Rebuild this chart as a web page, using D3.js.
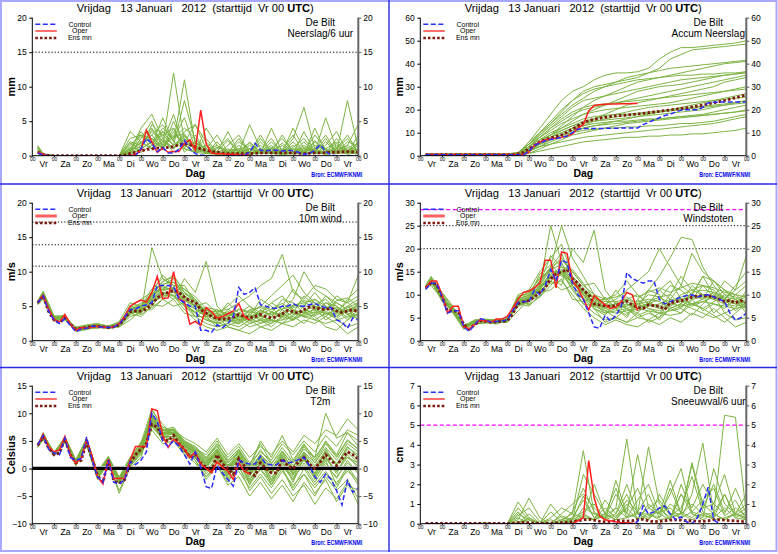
<!DOCTYPE html>
<html><head><meta charset="utf-8">
<script src="https://cdn.jsdelivr.net/npm/d3@7"></script>
<style>body{margin:0;background:#fff}svg{display:block}</style>
</head><body>
<svg id="c" width="778" height="554"></svg>
<script>
// ---------------- DATA ----------------
const DAYS = ["Vr","Za","Zo","Ma","Di","Wo","Do","Vr","Za","Zo","Ma","Di","Wo","Do","Vr"];
const HOURS6 = d3.range(6, 361, 6);                 // 6-hourly sampling grid (control / oper / mean)
const MEMBER_HOURS = [6].concat(d3.range(12, 361, 12)); // member sampling grid
const TITLE = "Vrijdag   13 Januari   2012  (starttijd  Vr 00 ";
const SOURCE = "Bron: ECMWF/KNMI";
const STATION = "De Bilt";
const LEGEND = ["Control", "Oper", "Ens mn"];

// Panel 1: Neerslag/6 uur (mm)
const P1_OPER = [0.5,0.2,0,0,0,0,0,0,0,0,0,0,0,0,0,0,0,0,0.2,0.8,3.7,2.0,0.5,1.1,0.5,0.6,0.6,1.8,2.3,0.8,6.6,1.7,0.4,0.3,0.3,0.2,0.2,0.1,0.1,0.1];
const P1_CONTROL = [0.4,0.1,0,0,0,0,0,0,0,0,0,0,0,0,0,0,0,0,0,1.0,2.5,1.8,0.6,1.2,0.4,0.4,0.9,2.2,1.0,0.3,0.1,0,0,0,0,0,0,0,0.1,0.5,1.8,0.8,0.7,0.8,0.8,0.7,0.8,0.7,0.5,0.2,0.3,0.8,1.6,0.6,0.1,0,0,0,0,0];
const P1_MEAN = [0.5,0.2,0.05,0,0,0,0,0,0,0,0,0,0,0,0,0,0.1,0.3,0.5,0.7,0.9,1.0,1.1,1.1,1.2,1.3,1.6,1.7,1.6,1.3,1.0,0.8,0.6,0.5,0.4,0.3,0.3,0.3,0.3,0.3,0.35,0.4,0.4,0.4,0.4,0.4,0.4,0.4,0.35,0.3,0.35,0.4,0.4,0.45,0.5,0.5,0.55,0.6,0.55,0.5];
const P1_MEMBERS = [
 [1.5,0.3,0,0,0,0,0,0,0,0.3,2.5,4.0,1.5,12.0,2.0,1.0,0.5,0.3,0,0.5,1.5,0.3,1.0,0.2,0.5,2.0,0.3,0.5,1.0,0.2,0.5],
 [0.8,0.1,0,0,0,0,0,0,0,1.0,3.5,1.5,5.5,2.0,11.0,1.5,0.5,0.2,0.3,1.0,0.3,0.5,2.0,0.5,1.5,0.3,0.8,0.2,0.5,8.0,1.0],
 [0.5,0,0,0,0,0,0,0,0,0.5,4.0,6.0,2.5,1.0,3.5,4.5,2.0,0.5,0.2,0.5,4.5,1.0,0.5,3.0,0.5,0.2,2.0,1.0,0.3,0.5,0.2],
 [1.0,0.2,0,0,0,0,0,0,0,2.0,1.5,3.0,1.0,5.0,1.5,0.5,4.0,1.5,0.5,0.3,0.2,0.5,0.3,0.5,2.5,7.0,1.0,0.3,1.5,0.5,2.0],
 [0.3,0,0,0,0,0,0,0,0,0.2,1.0,2.0,3.5,1.5,8.0,2.0,1.0,3.0,0.5,0.2,0.5,2.5,0.5,0.2,0.3,1.0,0.5,5.5,1.0,3.0,0.5],
 [0.6,0.1,0,0,0,0,0,0,0,3.5,2.0,1.0,2.5,0.5,1.5,3.0,0.5,1.0,2.5,0.5,1.0,0.3,4.0,0.5,1.0,0.5,3.0,1.0,0.5,1.5,4.5],
 [1.2,0.2,0,0,0,0,0,0,0,0.3,2.5,5.0,1.0,4.0,0.5,2.0,0.3,0.2,1.5,3.0,0.5,0.3,0.5,1.5,0.3,3.5,0.5,0.3,2.5,0.5,1.5],
 [0.4,0,0,0,0,0,0,0,0,0.8,0.5,1.5,4.0,2.5,5.5,1.0,2.5,0.5,0.2,0.5,0.3,1.0,0.3,0.5,4.0,1.0,0.5,2.0,0.5,0.3,3.0],
 [0.9,0.1,0,0,0,0,0,0,0,1.5,3.0,2.5,1.5,3.0,2.0,4.5,1.0,0.3,0.5,2.0,1.0,0.5,1.5,0.3,0.5,0.2,4.0,0.5,1.0,2.5,0.5],
 [0.5,0,0,0,0,0,0,0,0,0.2,1.5,3.5,2.0,6.0,1.0,0.5,0.3,2.0,0.3,0.2,0.5,3.0,0.5,1.0,0.2,0.5,0.3,1.5,3.5,0.5,1.0],
 [1.3,0.2,0,0,0,0,0,0,0,1.2,0.8,4.5,3.0,1.5,3.0,0.5,1.5,0.5,3.5,0.5,0.2,0.5,1.0,2.5,0.5,1.5,0.5,0.2,0.5,1.0,0.3],
 [0.7,0.1,0,0,0,0,0,0,0,0.5,2.0,1.0,3.5,2.5,4.0,2.5,0.5,0.3,0.2,1.5,0.5,1.5,0.3,0.2,1.0,0.5,1.0,3.0,0.5,2.0,1.5],
 [0.6,0.1,0,0,0,0,0,0,0,0.8,1.8,2.5,0.8,3.5,1.5,2.0,0.3,0.5,1.0,0.3,2.0,0.5,1.2,0.4,2.0,0.5,1.5,0.8,0.3,1.2,0.6],
 [1.0,0.2,0,0,0,0,0,0,0,2.5,3.0,1.0,2.0,1.0,2.5,1.0,1.5,0.2,0.8,1.0,0.5,2.0,0.4,0.8,3.0,0.3,0.5,1.0,2.0,0.4,0.8],
 [0.4,0,0,0,0,0,0,0,0,0.4,2.0,3.0,4.5,2.0,1.0,0.5,0.8,1.5,0.3,0.6,0.4,0.8,2.5,0.3,0.5,1.2,0.6,2.5,0.4,0.6,1.8],
 [0.8,0.1,0,0,0,0,0,0,0,1.8,1.0,2.0,1.2,2.8,3.2,0.8,0.4,0.6,2.2,0.4,1.0,0.3,0.6,1.8,0.6,0.3,2.2,0.4,1.2,0.8,0.4],
 [1.1,0.2,0,0,0,0,0,0,0,0.6,3.0,1.8,3.0,4.0,1.2,1.8,1.0,0.3,0.4,2.5,0.3,0.6,0.8,0.3,1.2,2.5,0.4,0.6,1.8,0.3,1.0],
 [0.5,0.1,0,0,0,0,0,0,0,1.0,1.2,3.8,2.2,1.2,2.8,1.2,0.6,1.2,0.6,0.8,1.8,0.4,1.0,0.6,0.4,0.8,1.0,0.3,0.8,1.5,0.7]
];

// Panel 2: Accum Neerslag (mm)
const P2_OPER = [0.5,0.5,0.5,0.5,0.5,0.5,0.5,0.5,0.5,0.5,0.5,0.5,0.5,0.5,0.5,0.5,0.5,0.5,0.5,1.5,4.5,6.0,6.8,7.3,7.6,8.0,8.5,9.5,12.0,13.5,19.5,21.8,22.2,22.4,22.5,22.5,22.6,22.6,22.7,22.7];
const P2_CONTROL = [0.4,0.4,0.4,0.4,0.4,0.4,0.4,0.4,0.4,0.4,0.4,0.4,0.4,0.4,0.4,0.4,0.4,0.4,0.4,2.0,4.5,5.5,6.5,7.0,7.5,8.0,8.5,10.0,11.5,11.8,11.8,11.8,11.8,11.9,11.9,11.9,12.0,12.0,12.0,12.0,13.5,14.5,15.5,16.5,17.5,18.0,19.0,19.8,20.0,20.0,20.0,21.0,23.0,23.2,23.3,23.3,23.3,23.3,23.3,23.3];
const P2_MEAN = [0.5,0.5,0.5,0.5,0.5,0.5,0.5,0.5,0.5,0.5,0.5,0.5,0.5,0.5,0.5,0.5,0.5,0.8,1.5,3.0,4.5,6.0,7.0,7.8,8.3,9.0,10.2,11.5,13.0,14.3,15.3,15.8,16.3,16.7,17.0,17.3,17.5,17.7,17.9,18.1,18.4,18.7,19.0,19.3,19.6,19.9,20.2,20.5,20.8,21.2,21.6,22.0,22.5,23.0,23.5,24.0,24.6,25.2,25.8,26.4];
const P2_MEMBERS = [
 [0.5,0.5,0.5,0.5,0.5,0.5,0.5,0.5,0.5,1.0,6,12,18,24,28,30,33,35,36,36,36.5,38,42,45,47,47,47.5,48,48.5,49,50],
 [0.8,0.8,0.8,0.8,0.8,0.8,0.8,0.8,0.8,1.5,5,9,14,19,24,28,30,31,32,33,34,36,38,42,44,46,46.5,47,47.5,48,48.5],
 [0.3,0.3,0.3,0.3,0.3,0.3,0.3,0.3,0.3,0.6,3,6,9,13,17,21,24,26,28,30,32,33,34,35,36,37,38,39,40,40.5,41],
 [0.4,0.4,0.4,0.4,0.4,0.4,0.4,0.4,0.4,0.8,4,7,10,12,15,18,20,22,24,26,28,29,30,30.5,31,32,33,34,35,35.5,36],
 [0.6,0.6,0.6,0.6,0.6,0.6,0.6,0.6,0.6,1.0,3,5,8,10,12,14,16,18,20,22,23,24,25,26,27,28,29,30,32,33,34],
 [0.3,0.3,0.3,0.3,0.3,0.3,0.3,0.3,0.3,0.5,2,4,6,8,10,12,13,14,15,16,17,18,19,20,21,22,23,24,25,26,27],
 [0.5,0.5,0.5,0.5,0.5,0.5,0.5,0.5,0.5,0.7,3,5,7,9,11,13,15,16,17,17.5,18,18.5,19,19.5,20,20.5,21,21.5,22,22.5,23],
 [0.2,0.2,0.2,0.2,0.2,0.2,0.2,0.2,0.2,0.4,1,3,5,7,9,10,11,12,13,14,14.5,15,15.5,16,16.5,17,17.5,18,18.5,19,19.5],
 [0.4,0.4,0.4,0.4,0.4,0.4,0.4,0.4,0.4,0.6,2,4,5,6,7,8,8.5,9,9.5,10,10.5,11,11.5,12,12.5,13,13.5,14,15,16,17],
 [0.3,0.3,0.3,0.3,0.3,0.3,0.3,0.3,0.3,0.4,1,2,3,4,5,6,6.5,7,7.5,8,8,8.5,8.5,9,9,9.5,9.5,10,10.5,11,12],
 [0.7,0.7,0.7,0.7,0.7,0.7,0.7,0.7,0.7,1.0,5,9,13,17,21,24,25,26,27,28,29,30,31,32,33,33.5,34,34.5,35,35.5,36.5],
 [0.5,0.5,0.5,0.5,0.5,0.5,0.5,0.5,0.5,0.8,4,8,11,14,16,18,19,20,20.5,21,21.5,22,22.5,23,24,25,26,27,28,29,30],
 [0.4,0.4,0.4,0.4,0.4,0.4,0.4,0.4,0.4,0.6,2,5,8,11,13,15,16,17,18,19,20,21,21.5,22,22.5,23,23.5,24,24.5,25,25.5],
 [0.6,0.6,0.6,0.6,0.6,0.6,0.6,0.6,0.6,1.0,6,10,14,18,22,25,28,30,32,34,35,36,37,38,38.5,39,39.5,40,40.5,41,41.5],
 [0.5,0.5,0.5,0.5,0.5,0.5,0.5,0.5,0.5,0.8,4,7,9,11,13,14,15,15.5,16,16.5,17,17.5,18,18.5,19,19.5,20,21,22,23,24],
 [0.4,0.4,0.4,0.4,0.4,0.4,0.4,0.4,0.4,0.6,3,6,9,12,14,16,17,17.5,18,18,18.5,19,19.5,20,20.5,21,21.5,22,22.5,23,24],
 [0.6,0.6,0.6,0.6,0.6,0.6,0.6,0.6,0.6,1.2,5,8,12,15,18,20,21,22,23,24,25,26,27,28,29,30,31,32,33,34,35],
 [0.3,0.3,0.3,0.3,0.3,0.3,0.3,0.3,0.3,0.5,2,4,7,9,11,12,13,13.5,14,14.5,15,15.5,16,16.5,17,17.5,18,19,20,21,22],
 [0.5,0.5,0.5,0.5,0.5,0.5,0.5,0.5,0.5,0.9,4,8,12,16,19,21,22,22.5,23,23.5,24,24.5,25,25.5,26,26.5,27,27.5,28,28.5,29],
 [0.4,0.4,0.4,0.4,0.4,0.4,0.4,0.4,0.4,0.7,3,5,8,10,12,13,14,14.5,15,15,15.5,16,16,16.5,17,17,17.5,18,18.5,19,20],
 [0.6,0.6,0.6,0.6,0.6,0.6,0.6,0.6,0.6,1.0,5,10,15,20,24,27,29,30,31,32,33,33.5,34,34.5,35,35,35.5,35.5,36,36,36.5],
 [0.3,0.3,0.3,0.3,0.3,0.3,0.3,0.3,0.3,0.5,2,5,7,9,10,11,11.5,12,12,12.5,12.5,13,13,13.5,14,14,14.5,15,16,17,18]
];

// Panel 3: 10m wind (m/s)
const P3_OPER = [5.5,6.6,4.6,3.1,2.7,3.8,2.4,1.5,1.9,1.8,2.0,2.1,2.0,1.9,2.0,2.5,3.5,5.0,5.5,5.9,5.6,7.0,9.3,6.1,6.2,10.0,6.0,5.7,2.4,2.8,2.2,4.8,4.2,3.3,3.5,3.9,4.3,5.4,3.5,3.0];
const P3_CONTROL = [5.5,6.5,4.3,3.0,2.5,3.2,2.2,1.3,1.7,1.8,2.1,2.1,1.9,1.9,2.0,2.4,3.4,4.5,4.6,5.0,5.2,5.5,8.0,8.0,8.0,7.8,6.0,5.5,5.0,5.0,1.5,1.5,1.2,2.3,1.9,2.5,3.5,7.7,6.7,7.0,7.7,5.2,5.0,4.7,4.7,5.0,5.0,5.4,5.0,5.0,5.2,5.4,5.0,4.8,4.8,3.0,2.7,1.8,3.3,3.0];
const P3_MEAN = [5.5,6.5,4.2,3.0,2.6,3.3,2.4,1.7,1.8,1.9,2.1,2.1,2.0,1.9,2.0,2.3,3.2,4.2,4.3,4.3,4.6,5.3,6.2,6.8,7.0,7.3,7.0,6.3,5.8,5.6,4.5,4.0,3.5,3.2,3.1,3.2,3.4,3.8,3.5,3.3,3.5,3.8,3.5,3.3,3.5,3.9,4.4,4.2,4.0,4.5,4.9,4.8,4.6,4.5,4.7,4.3,4.1,4.3,4.5,4.2];
const P3_MEMBERS = [
 [5.3,6.8,3.0,3.5,1.5,2.0,2.2,2.0,2.8,5.5,5.0,7.5,9.0,8.0,5.0,4.0,3.0,2.5,3.0,2.5,4.0,5.0,6.5,8.0,9.5,7.0,5.5,4.0,3.5,5.0,6.0],
 [5.8,7.2,3.5,3.0,2.0,2.2,2.4,1.8,2.0,3.5,4.0,13.5,9.0,8.0,8.0,5.5,4.5,3.5,2.0,1.5,2.5,3.0,2.5,3.5,4.0,3.5,3.0,2.5,3.0,2.0,2.5],
 [5.5,6.3,3.2,3.8,1.3,1.6,2.0,2.2,2.5,5.0,6.0,7.0,8.5,9.5,7.0,6.0,4.0,3.0,4.5,5.5,6.5,8.0,9.0,12.5,7.0,6.0,8.0,7.5,6.0,5.5,6.5],
 [5.6,6.5,3.4,3.2,1.8,2.0,2.3,1.7,2.2,4.0,3.5,5.0,7.0,6.0,9.0,7.0,11.5,5.0,3.5,3.0,2.0,2.5,3.0,2.5,3.0,4.0,3.5,2.0,1.5,3.0,4.5],
 [5.2,6.0,3.0,3.0,1.5,1.8,1.8,2.0,2.0,3.0,4.5,4.5,6.0,7.5,5.5,3.5,2.5,2.0,2.5,3.5,3.0,4.5,3.5,5.0,4.0,6.5,5.0,4.5,5.5,4.5,5.0],
 [5.7,7.0,3.6,3.6,1.9,2.3,2.5,2.1,2.6,4.5,5.0,6.5,7.5,8.5,6.5,5.0,5.5,4.0,3.0,4.0,5.0,3.5,4.0,6.0,5.5,4.0,6.0,5.0,4.0,6.0,7.5],
 [5.4,6.2,2.8,3.4,1.6,1.7,2.0,1.8,2.3,4.8,4.2,5.8,6.5,6.5,4.5,3.0,2.0,1.5,2.0,1.5,1.0,2.0,1.5,2.5,2.0,3.0,2.5,3.5,2.5,1.0,2.0],
 [5.5,6.6,3.3,3.1,1.7,2.1,2.2,1.9,2.4,4.2,4.0,6.5,8.0,7.0,6.0,4.5,3.5,4.0,5.0,6.5,5.0,4.0,5.5,4.5,6.0,10.0,7.5,6.5,5.0,4.0,3.5],
 [5.3,6.4,3.1,3.3,1.8,1.9,1.9,2.0,2.1,3.8,4.6,5.2,5.0,6.0,4.0,3.5,4.5,3.5,4.0,3.0,3.5,6.0,5.0,3.0,3.5,2.5,4.0,5.5,4.5,3.0,4.0],
 [5.6,6.9,3.5,3.5,1.6,2.0,2.3,2.1,2.5,4.6,4.8,7.0,9.5,8.0,7.5,6.0,4.0,3.0,3.5,4.5,4.0,5.0,4.5,5.0,7.5,5.5,6.0,4.5,6.5,5.5,9.5],
 [5.4,6.6,3.2,3.2,1.7,1.8,2.1,1.9,2.2,4.4,3.8,4.8,6.0,5.0,5.5,4.0,3.0,2.5,4.0,3.5,2.5,3.0,2.0,3.5,3.0,4.5,3.0,4.0,3.5,4.5,3.0],
 [5.5,6.7,3.3,3.4,1.5,2.0,2.2,2.0,2.4,4.3,5.5,5.5,7.0,6.5,5.0,3.5,3.5,4.5,3.5,2.5,4.5,3.5,3.0,4.0,5.0,5.5,5.0,3.0,4.0,5.0,4.0],
 [5.4,6.4,3.0,3.3,1.8,1.9,2.0,1.8,2.6,4.0,4.4,6.2,8.0,9.0,6.5,5.5,3.5,2.0,2.5,2.0,3.0,2.0,2.5,4.5,3.5,5.0,7.0,5.0,3.0,3.5,5.5],
 [5.6,6.3,3.4,3.1,1.7,2.1,2.3,2.1,2.2,4.9,5.2,6.8,7.5,7.5,6.0,5.0,4.5,3.5,5.5,4.0,3.5,4.0,5.5,6.5,4.5,4.0,4.5,6.5,5.5,4.5,3.5],
 [5.5,6.5,3.2,3.4,1.7,1.9,2.1,2.0,2.3,4.1,4.5,6.0,7.2,7.8,6.2,4.8,3.8,3.2,2.8,3.0,3.8,3.2,2.8,3.0,4.2,3.6,4.2,3.5,4.8,3.8,4.6],
 [5.4,6.6,3.3,3.2,1.6,2.0,2.2,1.9,2.4,4.5,4.2,5.6,6.8,7.0,5.8,5.2,4.2,3.6,4.2,3.8,3.0,4.2,3.8,4.6,5.0,5.8,5.5,4.2,3.8,4.8,5.5],
 [5.6,6.8,3.4,3.5,1.8,2.1,2.3,2.0,2.5,4.7,5.0,6.8,8.2,8.5,7.0,5.5,3.2,2.6,2.2,2.8,3.2,2.6,3.4,3.8,3.2,4.5,4.0,5.5,5.0,3.8,3.2],
 [5.3,6.3,3.1,3.3,1.6,1.8,2.0,2.0,2.2,3.9,4.3,5.5,6.4,7.2,5.2,4.2,4.8,4.5,3.8,3.2,4.5,4.8,4.2,3.6,5.2,4.8,3.6,4.5,5.8,6.2,5.0],
 [5.5,6.7,3.3,3.3,1.7,2.0,2.1,1.9,2.3,4.3,4.7,6.4,7.8,7.4,6.8,5.8,4.0,3.4,3.2,3.6,2.8,3.6,3.0,2.5,3.8,4.2,5.2,6.0,4.6,4.2,4.8],
 [5.4,6.5,3.2,3.4,1.8,1.9,2.2,2.1,2.4,4.5,4.0,5.9,7.0,6.6,5.4,4.6,3.6,2.8,3.6,4.6,4.2,3.8,4.6,5.4,4.4,3.4,3.8,4.8,4.2,5.6,4.0],
 [5.6,6.4,3.4,3.2,1.6,2.1,2.3,1.8,2.3,4.6,4.9,6.6,8.6,9.2,7.4,6.4,4.6,3.8,3.0,2.4,3.4,4.4,3.8,4.0,3.0,3.8,4.6,3.8,4.4,3.4,3.8],
 [5.5,6.6,3.2,3.3,1.7,2.0,2.1,2.0,2.4,4.2,4.4,6.1,7.4,7.6,6.4,5.0,4.4,4.2,4.6,3.4,3.6,3.0,4.2,3.4,4.8,5.2,4.4,4.0,3.2,4.4,5.2]
];

// Panel 4: Windstoten (m/s)
const P4_OPER = [11.5,13.0,13.0,10.0,6.0,7.5,7.5,3.0,2.6,3.5,4.5,4.3,4.0,4.7,4.7,5.3,7.0,9.0,10.5,10.8,11.5,12.5,17.5,17.5,11.5,19.3,19.0,13.0,11.5,9.0,6.7,9.8,8.8,7.8,7.0,7.3,8.5,10.5,10.0,6.5];
const P4_CONTROL = [11.2,12.5,12.5,9.5,6.0,6.5,6.5,3.0,2.0,3.5,4.8,4.5,4.0,4.2,4.3,4.5,6.5,8.3,8.5,8.5,11.0,10.0,12.0,15.5,13.0,17.5,17.0,12.5,10.0,9.0,6.0,3.0,2.7,5.5,4.3,5.5,7.5,14.8,13.5,13.0,12.5,13.0,13.0,9.0,8.0,8.5,9.0,9.5,9.8,10.0,9.5,9.8,10.0,9.5,9.0,8.5,6.0,4.5,5.0,6.0];
const P4_MEAN = [11.5,12.5,12.3,9.5,6.5,6.5,6.3,3.5,2.5,3.5,4.3,4.2,4.0,4.1,4.2,4.3,5.8,8.0,8.5,8.7,9.5,10.5,11.5,13.5,14.5,15.0,15.5,13.5,12.5,11.0,10.0,8.0,7.8,7.6,7.5,7.6,8.2,8.6,7.8,7.2,7.0,7.8,7.6,7.5,6.8,8.2,8.5,8.7,9.0,9.5,9.7,9.8,9.7,9.5,9.0,8.5,8.8,8.2,8.7,8.3];
const P4_MEMBERS = [
 [11.3,13.5,9.0,7.0,2.5,4.5,4.5,4.0,4.8,10.0,11.0,15.0,18.0,21.0,14.0,10.0,7.0,6.0,7.0,5.5,9.0,11.0,14.0,18.0,22.5,22.0,16.0,12.0,9.0,11.0,13.0],
 [12.0,14.0,10.0,6.0,3.5,4.0,4.5,4.5,4.5,7.5,8.5,12.0,25.0,17.0,12.0,9.0,8.0,6.5,5.0,4.0,5.0,6.0,5.0,7.0,8.0,7.0,6.0,5.0,6.0,4.5,5.0],
 [11.5,12.5,9.5,7.0,3.0,3.5,4.0,4.3,4.0,9.0,10.0,13.0,16.0,25.0,18.0,14.0,10.0,8.0,9.0,11.0,13.0,15.0,20.0,16.0,12.0,10.0,14.0,13.0,11.0,10.0,12.0],
 [11.0,13.0,8.5,6.5,2.8,4.2,4.2,3.8,4.2,8.0,7.5,10.0,14.0,12.0,20.0,17.0,24.0,11.0,8.0,7.0,5.0,4.5,6.0,5.5,6.0,8.0,7.0,5.5,4.0,6.0,8.0],
 [11.8,12.0,9.0,6.0,2.5,3.8,3.8,4.0,4.0,6.5,9.0,9.5,12.0,15.0,11.0,8.0,6.0,4.5,5.0,7.0,6.0,8.5,7.0,10.0,8.0,12.0,10.0,9.0,11.0,9.0,10.0],
 [12.2,13.8,10.5,7.5,3.3,4.5,4.7,4.5,5.0,9.5,10.5,13.5,15.5,18.0,15.0,12.0,12.5,9.0,7.0,9.0,10.0,8.0,9.0,12.0,11.0,9.0,12.0,11.0,9.0,12.0,15.0],
 [11.2,12.8,9.0,6.5,2.9,3.6,4.0,3.6,4.5,8.8,8.0,11.0,12.5,13.0,10.0,7.0,5.0,3.5,4.5,3.5,3.0,4.5,3.5,5.0,4.0,6.0,5.0,7.0,5.0,3.0,4.0],
 [11.6,13.2,9.8,6.8,3.1,4.0,4.3,4.2,4.6,8.0,9.5,14.5,16.5,14.0,13.0,10.0,8.5,9.0,10.0,13.0,10.0,8.0,11.0,9.0,12.0,19.0,15.0,13.0,10.0,8.0,7.0],
 [11.4,12.6,9.2,6.2,2.7,3.9,4.1,4.0,4.4,7.5,9.2,10.5,11.0,13.5,9.0,8.5,9.5,7.0,8.0,6.0,7.0,11.0,10.0,6.5,7.0,5.5,8.0,10.0,9.0,6.5,8.5],
 [11.9,13.6,10.2,7.2,3.2,4.3,4.6,4.4,4.7,9.2,9.8,12.5,18.5,16.0,15.5,12.5,9.0,6.5,7.5,9.5,8.0,10.0,9.5,10.0,14.0,11.0,12.0,9.5,13.0,11.0,18.5],
 [11.5,13.0,9.4,6.6,3.0,3.7,4.4,4.1,4.3,8.6,7.8,9.5,13.0,11.0,12.0,9.0,7.0,5.5,8.5,7.0,5.5,6.5,4.5,7.0,6.0,9.0,6.5,8.0,7.0,9.0,6.0],
 [11.7,12.9,9.6,6.4,2.6,4.1,4.2,4.3,4.5,8.2,11.0,11.0,15.0,14.5,11.5,8.0,7.5,9.5,7.0,5.0,9.0,7.0,6.0,8.0,10.0,11.0,10.0,6.0,8.0,10.0,8.0],
 [11.3,12.7,9.1,6.9,3.4,3.8,4.0,3.9,4.9,7.8,8.8,12.2,16.0,19.0,13.0,11.0,7.0,4.0,5.0,4.0,6.0,4.0,5.0,9.0,7.0,10.0,14.0,10.0,6.0,7.0,11.0],
 [11.6,13.4,9.7,6.3,2.9,4.4,4.5,4.2,4.3,9.7,10.2,13.8,15.0,15.0,12.5,11.0,9.5,7.5,11.0,8.0,7.0,8.0,11.0,13.0,9.0,8.0,9.0,13.0,11.0,9.0,7.0],
 [11.5,12.8,9.4,6.6,3.0,4.0,4.2,4.1,4.4,8.4,9.0,11.5,14.0,15.5,13.0,10.5,8.0,7.5,8.0,8.5,7.5,8.0,7.5,8.5,9.0,9.5,10.0,9.5,8.5,8.0,8.5],
 [11.6,13.1,9.6,6.7,3.1,4.2,4.3,4.2,4.5,8.6,9.4,12.0,15.5,16.5,14.0,11.5,9.0,8.0,7.0,7.5,8.5,9.0,8.5,7.0,8.0,10.5,11.0,10.5,9.5,9.0,7.5],
 [11.4,12.6,9.3,6.5,2.9,3.9,4.1,4.0,4.3,8.0,8.6,10.8,13.0,14.5,12.0,9.5,7.5,6.5,6.0,6.5,7.0,6.5,6.0,6.5,7.5,8.0,8.5,8.0,7.5,7.0,7.5],
 [11.7,13.3,9.8,6.8,3.2,4.3,4.4,4.3,4.6,8.8,9.6,12.8,16.0,17.5,15.0,12.0,10.0,9.0,9.5,10.5,9.5,10.5,11.5,10.5,11.5,12.5,12.0,11.5,10.5,10.0,9.5],
 [11.5,13.0,9.5,6.6,3.0,4.1,4.2,4.1,4.4,8.3,8.8,11.2,13.5,15.0,12.5,10.0,8.5,7.0,7.5,8.0,6.5,7.5,8.0,9.0,8.5,7.5,8.5,9.5,9.0,8.0,9.0],
 [11.6,13.0,9.7,6.7,3.1,4.0,4.3,4.2,4.5,8.5,9.2,11.8,14.5,16.0,13.5,11.0,8.0,6.0,6.5,7.0,8.0,7.0,6.5,7.5,9.0,8.0,7.0,8.5,10.0,9.5,8.0],
 [11.4,12.9,9.4,6.5,3.0,3.9,4.2,4.0,4.4,8.1,8.9,11.4,13.8,14.8,12.8,10.8,9.2,8.5,8.5,9.0,8.0,8.5,9.5,8.0,9.5,10.0,9.0,10.5,9.0,8.5,9.5],
 [11.5,13.1,9.5,6.6,3.0,4.1,4.2,4.1,4.4,8.4,9.1,11.6,14.2,15.2,13.2,10.2,7.8,7.2,7.2,7.8,7.2,7.8,7.0,8.0,7.5,9.0,9.5,9.0,8.0,7.5,8.0]
];

// Panel 5: T2m (Celsius)
const P5_OPER = [4.2,6.2,4.0,3.0,3.4,5.8,2.5,1.0,1.9,5.2,2.3,-1.5,-2.8,1.7,-1.8,-1.8,-1.7,1.5,4.0,4.0,4.0,10.8,10.5,6.0,3.8,5.3,4.5,3.5,2.0,3.0,0.8,0,-0.8,1.2,0.2,-0.5,-2.0,1.0,-0.5,-1.0];
const P5_CONTROL = [4.3,6.0,3.5,2.8,2.5,5.5,2.0,1.5,1.8,5.7,1.5,-1.5,-2.5,1.5,-2.5,-2.8,-2.0,1.2,0.7,1.5,3.0,10.0,8.5,5.0,4.0,5.0,4.0,2.5,0.8,3.0,0.2,-3.3,-3.6,0.5,-0.8,-2.0,-3.2,1.5,1.0,0.8,0.8,2.2,0.8,0.7,0.7,1.5,1.0,1.2,1.6,2.0,0.5,-1.5,-2.5,-1.0,-2.0,-4.0,-6.6,-2.2,-4.3,-3.5];
const P5_MEAN = [4.2,5.7,3.7,2.5,2.8,5.3,2.5,1.0,1.5,4.8,1.8,-1.3,-2.5,1.5,-2.2,-2.7,-2.0,1.0,2.5,3.5,4.5,8.0,7.5,5.5,5.0,6.0,4.5,3.5,2.0,2.5,1.0,0.2,-0.5,2.5,0.8,0.0,-1.0,1.8,0.5,-0.8,-1.3,1.0,0.0,-0.8,-0.8,1.8,0.5,0.0,1.2,2.0,0.8,0.0,1.2,2.5,1.5,0.5,1.8,3.0,2.5,1.7];
const P5_MEMBERS = [
 [4.0,6.0,2.8,5.5,1.2,5.0,-1.0,1.8,-2.0,1.5,4.0,10.0,7.0,7.5,5.0,4.0,2.0,4.5,2.0,4.0,1.0,3.0,1.5,4.5,2.5,5.0,3.0,6.0,4.0,7.0,6.0],
 [4.4,5.5,2.4,5.0,0.8,4.5,-1.5,1.2,-2.8,0.5,2.5,7.0,4.5,5.0,2.5,1.0,-1.5,1.0,-2.0,-0.5,-3.5,-1.0,-3.5,-0.5,-3.0,-1.0,-3.5,-1.0,-2.5,-0.5,-2.0],
 [4.2,6.5,2.5,5.8,1.5,5.5,-0.8,2.0,-1.5,2.0,4.5,9.0,6.5,6.5,4.0,3.0,1.0,3.0,0.5,2.0,-0.5,1.5,-1.0,2.5,0.0,4.0,1.0,4.5,2.0,5.0,3.5],
 [3.8,5.2,2.2,4.8,0.5,4.2,-2.0,1.0,-4.0,0.2,2.0,8.5,5.0,5.5,3.0,2.0,-0.5,2.0,-1.5,1.0,-2.5,0.0,-2.5,1.0,-1.5,0.5,-2.5,0.5,-1.5,1.0,-0.5],
 [4.5,6.2,3.0,5.2,1.0,4.8,-1.2,1.6,-2.2,1.2,3.0,10.5,8.0,6.0,4.5,1.5,-2.0,0.5,-3.0,-1.5,-5.0,-2.5,-5.5,-3.0,-6.0,-2.5,-5.0,-1.5,-4.0,-2.0,-5.5],
 [4.1,5.8,2.6,5.6,1.3,5.2,-0.6,2.2,-1.8,1.8,4.8,8.0,6.0,7.0,4.5,3.5,2.5,5.0,1.5,3.5,0.5,4.5,1.0,3.0,1.0,3.5,2.0,10.0,5.5,6.5,4.0],
 [4.3,5.6,2.5,4.9,0.7,4.6,-1.6,1.3,-2.6,0.8,3.5,7.5,5.5,6.5,3.5,2.5,0.5,2.5,-0.5,1.5,-1.5,2.0,-2.0,1.5,-2.5,2.0,-1.5,2.0,-1.0,3.0,1.0],
 [4.0,5.9,2.7,5.4,1.1,5.0,-1.1,1.5,-2.4,1.0,3.8,9.5,6.0,5.0,3.0,2.0,-1.0,1.5,-1.0,0.5,-1.0,0.5,-1.5,0.0,-4.0,-1.0,-4.5,-2.0,-6.0,-3.0,-4.0],
 [4.2,5.7,2.7,5.3,0.9,4.9,-1.3,1.7,-2.3,1.3,3.2,8.8,6.5,7.0,5.5,4.5,3.0,5.5,2.5,4.5,2.0,4.0,2.5,5.0,3.0,6.0,4.5,7.0,6.0,9.0,7.0],
 [4.3,6.1,2.4,5.1,1.4,4.7,-0.9,1.9,-2.1,1.6,4.2,9.8,7.5,6.8,4.2,3.2,1.5,3.5,0.0,2.5,-2.0,1.0,-1.0,3.0,-0.5,2.5,-1.0,3.5,0.5,4.0,2.0],
 [3.9,5.4,2.3,4.7,0.6,4.4,-1.8,1.1,-4.5,0.4,2.8,7.8,5.2,5.5,2.8,1.5,-1.5,0.5,-2.5,0.5,-4.0,-1.5,-4.5,-2.0,-5.0,-3.0,-6.5,-3.5,-5.5,-2.5,-6.5],
 [4.4,6.3,2.9,5.7,1.6,5.4,-0.7,2.1,-1.7,1.9,4.6,10.8,7.2,6.2,4.8,3.8,1.8,4.0,1.0,3.0,0.0,2.5,0.5,2.0,-1.0,1.5,0.0,2.5,1.0,2.0,1.0],
 [4.1,5.5,2.6,5.0,1.0,4.6,-1.4,1.4,-2.5,0.7,3.4,8.2,5.8,5.8,3.2,2.2,0.0,3.5,-1.0,2.5,-3.0,1.5,-3.0,1.0,-2.0,3.0,-2.0,1.5,-3.0,0.5,-2.5],
 [4.2,5.8,2.5,5.3,1.2,4.9,-1.0,1.6,-2.0,1.1,3.6,9.2,6.8,7.2,5.0,3.0,0.5,3.0,-0.5,3.5,0.5,5.0,2.0,6.0,1.5,4.5,1.5,5.0,2.5,6.5,5.0],
 [4.2,5.9,2.6,5.4,1.1,4.9,-1.2,1.6,-2.3,1.2,3.6,9.0,6.4,6.6,4.2,3.0,1.0,3.0,0.0,2.2,-1.2,1.8,-1.0,2.2,-0.5,2.5,0.0,3.0,0.5,3.5,1.5],
 [4.3,6.0,2.7,5.5,1.2,5.0,-1.0,1.7,-2.2,1.3,3.8,9.4,6.8,6.9,4.6,3.4,1.4,3.6,0.6,2.8,-0.4,2.6,0.0,3.2,0.5,3.0,1.0,3.8,1.5,4.5,3.0],
 [4.1,5.6,2.5,5.1,0.9,4.7,-1.4,1.4,-2.6,0.9,3.2,8.4,6.0,6.2,3.8,2.5,0.2,2.2,-1.2,1.2,-2.2,0.8,-2.2,0.5,-2.0,1.0,-1.8,1.0,-1.8,1.5,-1.0],
 [4.2,5.8,2.6,5.3,1.0,4.8,-1.1,1.5,-2.4,1.1,3.5,8.9,6.3,6.4,4.0,2.8,0.6,2.6,-0.6,1.8,-1.0,1.4,-0.6,1.8,-1.2,1.8,-0.8,2.2,-0.5,2.5,0.0],
 [4.3,6.1,2.8,5.6,1.3,5.1,-0.9,1.8,-2.0,1.4,3.9,9.6,7.0,7.1,4.8,3.6,1.8,4.2,1.2,3.2,0.2,3.4,0.8,3.8,1.2,4.2,2.0,4.8,2.2,5.2,3.5],
 [4.0,5.6,2.4,5.0,0.8,4.5,-1.5,1.3,-2.8,0.7,3.0,8.0,5.6,5.8,3.4,2.0,-0.5,1.8,-1.8,0.2,-2.8,-0.2,-3.0,0.0,-3.5,0.0,-3.0,-0.5,-3.5,0.0,-3.0],
 [4.2,5.7,2.6,5.2,1.0,4.8,-1.2,1.5,-2.4,1.1,3.4,8.6,6.2,6.4,4.0,2.8,0.8,2.8,-0.2,2.0,-0.8,2.0,-0.4,2.5,0.2,2.8,0.5,3.2,0.8,3.8,2.5],
 [4.1,5.8,2.5,5.3,1.1,4.9,-1.1,1.6,-2.3,1.2,3.6,9.0,6.5,6.6,4.4,3.2,1.2,3.2,0.2,2.4,-0.2,2.2,-0.2,2.0,-0.8,1.5,-1.2,1.8,-0.6,2.0,0.5]
];

// Panel 6: Sneeuwval/6 uur (cm)
const P6_OPER = [0,0,0,0,0,0,0,0,0,0,0,0,0,0,0,0,0,0,0,0,0,0,0,0,0,0,0,0,0.15,0.3,3.2,1.3,0.4,0.2,0.15,0.1,0.05,0.05,0.02,0];
const P6_CONTROL = [0,0,0,0,0,0,0,0,0,0,0,0,0,0,0,0,0,0,0,0,0,0,0,0,0,0,0,0,0,0,0,0,0,0,0,0,0,0,0,0.1,0.9,0.5,0.6,0.8,0.9,0.5,0.2,0.35,0.1,0,0.3,1.0,1.85,0.2,0,0,0,0,0,0];
const P6_MEAN = [0.02,0.02,0.02,0.02,0.02,0.02,0.02,0.02,0.02,0.02,0.02,0.02,0.02,0.02,0.02,0.02,0.02,0.05,0.06,0.05,0.03,0.02,0.02,0.03,0.04,0.05,0.07,0.1,0.15,0.2,0.22,0.18,0.12,0.1,0.12,0.15,0.15,0.13,0.15,0.2,0.22,0.15,0.1,0.12,0.15,0.18,0.2,0.18,0.15,0.15,0.13,0.12,0.15,0.2,0.2,0.18,0.15,0.15,0.12,0.1];
const P6_MEMBERS = [
 [0,0,0,0,0,0,0,0,0,1.1,0.3,0,0,0.2,0.5,3.7,0.5,0.2,0.8,4.3,0.5,0.2,0.8,0.3,1.5,0.5,0.2,0.5,0.2,0.5,0.3],
 [0,0,0,0,0,0,0,0,0,0.2,1.3,0.3,0,0.5,1.0,1.5,0.8,0.3,1.5,0.5,3.5,0.8,0.5,2.2,0.5,3.1,1.0,0.5,1.5,0.3,0.2],
 [0,0,0,0,0,0,0.05,0,0,0,0.5,0,1.0,0.3,0.2,2.5,1.5,0.5,0.2,1.0,0.5,3.9,1.0,0.5,0.3,1.5,4.1,0.5,0.2,0.5,1.5],
 [0,0,0,0,0,0,0,0,0,0.8,0.2,0,0,0,0.3,1.2,0.3,0.5,1.8,0.3,1.2,2.0,0.5,1.5,2.8,0.5,0.3,2.8,1.0,0.5,0.2],
 [0,0,0,0,0,0,0,0,0,0,0,0,0.3,0.8,0.5,0.3,2.0,0.5,0.2,0.3,0.5,0.2,1.5,0.5,0.5,0.2,0.5,0.5,5.5,5.4,0.5],
 [0,0,0,0,0,0,0,0,0,0.3,0,0,0,0,0.2,0.5,0.2,1.2,0.5,2.0,0.5,0.5,0.3,1.8,0.5,3.0,0.8,1.0,0.5,1.8,0.5],
 [0,0,0,0,0,0,0,0,0,0,0,0,0,0,0,0.8,0.5,0.3,0.5,1.5,0.2,0.5,0.2,0.3,0.5,1.0,0.5,0.2,0.3,0.5,1.0],
 [0,0,0,0,0,0,0,0,0,0.5,0.2,0,0,0.2,0.1,0.3,0.2,0.5,0.2,0.8,0.2,1.0,0.5,0.2,1.5,0.8,2.0,1.0,2.5,0.5,0.3],
 [0,0,0,0,0,0,0,0,0,0.4,0.8,0.1,0,0.1,0.6,1.8,0.6,0.2,0.4,0.8,1.8,0.4,0.6,0.8,0.3,0.6,1.2,1.8,0.4,0.8,0.4],
 [0,0,0,0,0,0.02,0,0,0,0.1,0.2,0,0.6,0.1,0.3,0.6,1.0,0.2,2.2,0.5,0.3,0.8,1.2,0.4,0.8,2.4,0.6,0.3,0.8,0.3,0.6],
 [0,0,0,0,0,0,0,0,0,0.6,0,0,0,0.4,0.2,1.4,0.3,0.8,0.3,1.2,0.6,1.5,0.3,1.0,0.6,0.3,0.8,2.0,0.6,1.2,0.2],
 [0,0,0,0,0,0,0,0,0,0,0.3,0,0.2,0,0.1,0.4,0.2,0.4,0.8,0.3,0.6,0.3,0.8,0.2,2.0,0.6,0.4,0.3,1.5,0.4,0.8]
];

const PANELS = [
 {col:0,row:0,domain:[0,20],ticks:[0,5,10,15,20],ylab:"mm",name:"Neerslag/6 uur",oper:P1_OPER,control:P1_CONTROL,mean:P1_MEAN,members:P1_MEMBERS,refs:[{v:15,t:"dot"}]},
 {col:1,row:0,domain:[0,60],ticks:[0,10,20,30,40,50,60],ylab:"mm",name:"Accum Neerslag",oper:P2_OPER,control:P2_CONTROL,mean:P2_MEAN,members:P2_MEMBERS,refs:[]},
 {col:0,row:1,domain:[0,20],ticks:[0,5,10,15,20],ylab:"m/s",name:"10m wind",oper:P3_OPER,control:P3_CONTROL,mean:P3_MEAN,members:P3_MEMBERS,refs:[{v:10.8,t:"dot"},{v:13.9,t:"dot"},{v:17.2,t:"dot"}],thickLeg:true},
 {col:1,row:1,domain:[0,30],ticks:[0,5,10,15,20,25,30],ylab:"m/s",name:"Windstoten",oper:P4_OPER,control:P4_CONTROL,mean:P4_MEAN,members:P4_MEMBERS,refs:[{v:20,t:"dot"},{v:25,t:"dot"},{v:28.5,t:"mag"}],thickLeg:true},
 {col:0,row:2,domain:[-10,15],ticks:[-10,-5,0,5,10,15],ylab:"Celsius",name:"T2m",oper:P5_OPER,control:P5_CONTROL,mean:P5_MEAN,members:P5_MEMBERS,refs:[],zero:true},
 {col:1,row:2,domain:[0,7],ticks:[0,1,2,3,4,5,6,7],ylab:"cm",name:"Sneeuwval/6 uur",oper:P6_OPER,control:P6_CONTROL,mean:P6_MEAN,members:P6_MEMBERS,refs:[{v:5,t:"mag"}]}
];

// ---------------- DRAWING ----------------
const FONT = '"Liberation Sans", Arial, Helvetica, sans-serif';
const COLS = [32.3, 420.3], ROWS = [17.7, 202.7, 385.7], PW = 326, PH = 138;
const C_MEM = "#7db444", C_MEAN = "#7d1a10", C_CTRL = "#2b2bff", C_OPER = "#ff1f1f";
const svg = d3.select("#c");
svg.append("rect").attr("width",778).attr("height",554).attr("fill","#fff");
const defs = svg.append("defs");

function styleText(sel, size, weight){
  sel.attr("font-family",FONT).attr("font-size",size).attr("fill","#000");
  if(weight) sel.attr("font-weight",weight);
  return sel;
}

PANELS.forEach((p,k)=>{
  const X0 = COLS[p.col], Y0 = ROWS[p.row];
  const x = d3.scaleLinear().domain([0,360]).range([X0, X0+PW]);
  const y = d3.scaleLinear().domain(p.domain).range([Y0+PH, Y0]);
  const g = svg.append("g");
  const cid = "clip"+k;
  defs.append("clipPath").attr("id",cid).append("rect").attr("x",X0).attr("y",Y0-2).attr("width",PW).attr("height",PH+2);
  const pl = g.append("g").attr("clip-path",`url(#${cid})`);

  p.refs.forEach(r=>{
    const ln = pl.append("line").attr("x1",X0).attr("x2",X0+PW).attr("y1",y(r.v)).attr("y2",y(r.v)).attr("fill","none");
    if(r.t==="dot") ln.attr("stroke","#000").attr("stroke-width",1).attr("stroke-dasharray","1.2,2");
    else ln.attr("stroke","#ff00ff").attr("stroke-width",1.2).attr("stroke-dasharray","4,2.5");
  });

  const mk = hours => d3.line().x((d,i)=>x(hours[i])).y(d=>y(d));
  pl.append("g").selectAll("path").data(p.members).join("path")
    .attr("d", mk(MEMBER_HOURS)).attr("fill","none").attr("stroke",C_MEM).attr("stroke-width",1);

  if(p.zero){
    pl.append("line").attr("x1",X0).attr("x2",X0+PW).attr("y1",y(0)-2).attr("y2",y(0)-2).attr("stroke","#bbb").attr("stroke-width",1);
    pl.append("line").attr("x1",X0).attr("x2",X0+PW).attr("y1",y(0)).attr("y2",y(0)).attr("stroke","#000").attr("stroke-width",3);
  }

  pl.append("path").datum(p.mean).attr("d",mk(HOURS6)).attr("fill","none").attr("stroke",C_MEAN).attr("stroke-width",2.8).attr("stroke-dasharray","2.6,2.2");
  pl.append("path").datum(p.oper).attr("d",mk(HOURS6)).attr("fill","none").attr("stroke",C_OPER).attr("stroke-width",1.5);
  pl.append("path").datum(p.control).attr("d",mk(HOURS6)).attr("fill","none").attr("stroke",C_CTRL).attr("stroke-width",1.5).attr("stroke-dasharray","5,2.5");

  // axes
  const ya = g.append("g").attr("transform",`translate(${X0},0)`)
    .call(d3.axisLeft(y).tickValues(p.ticks).tickSize(3).tickPadding(2.5).tickFormat(d3.format("d")));
  ya.select(".domain").remove();
  ya.selectAll("line").attr("stroke","#000");
  styleText(ya.selectAll("text"), 8.5);
  const yb = g.append("g").attr("transform",`translate(${X0+PW},0)`)
    .call(d3.axisRight(y).tickValues(p.ticks).tickSize(3).tickPadding(2).tickFormat(d3.format("d")));
  yb.select(".domain").remove();
  yb.selectAll("line").attr("stroke","#555");
  styleText(yb.selectAll("text"), 8.5);

  const xa = g.append("g").attr("transform",`translate(0,${Y0+PH})`)
    .call(d3.axisBottom(x).tickValues(d3.range(0,361,24)).tickSize(1.5).tickPadding(0.5).tickFormat(()=>"00"));
  xa.select(".domain").remove();
  xa.selectAll("line").attr("stroke","#000");
  styleText(xa.selectAll("text"), 5);
  const xd = g.append("g").attr("transform",`translate(0,${Y0+PH})`)
    .call(d3.axisBottom(x).tickValues(d3.range(12,360,24)).tickSize(0).tickPadding(5).tickFormat((d,i)=>DAYS[i]));
  xd.select(".domain").remove();
  styleText(xd.selectAll("text"), 8.5);

  g.append("line").attr("x1",X0).attr("x2",X0).attr("y1",Y0).attr("y2",Y0+PH).attr("stroke","#000").attr("stroke-width",1);
  g.append("line").attr("x1",X0+PW).attr("x2",X0+PW).attr("y1",Y0).attr("y2",Y0+PH).attr("stroke","#666").attr("stroke-width",2);
  g.append("line").attr("x1",X0).attr("x2",X0+PW).attr("y1",Y0+PH).attr("y2",Y0+PH).attr("stroke","#000").attr("stroke-width",1);

  // title
  const t = g.append("text").attr("x",X0+163).attr("y",Y0-6).attr("text-anchor","middle")
    .attr("xml:space","preserve").attr("textLength",237).attr("lengthAdjust","spacingAndGlyphs");
  styleText(t, 11);
  t.append("tspan").text(TITLE);
  t.append("tspan").attr("font-weight","bold").text("UTC");
  t.append("tspan").text(")");

  // y label
  styleText(g.append("text").attr("transform",`translate(${X0-17},${Y0+PH/2}) rotate(-90)`)
    .attr("text-anchor","middle").text(p.ylab), 11, "bold");
  // x label
  styleText(g.append("text").attr("x",X0+163).attr("y",Y0+159.5).attr("text-anchor","middle").text("Dag"), 10.5, "bold");
  // source
  styleText(g.append("text").attr("x",X0+330).attr("y",Y0+159.3).attr("text-anchor","end")
    .attr("textLength",51).attr("lengthAdjust","spacingAndGlyphs").text(SOURCE), 7, "bold").attr("fill","#0000ee");
  // station + variable
  styleText(g.append("text").attr("x",X0+288).attr("y",Y0+8.5).attr("text-anchor","middle").text(STATION), 10);
  styleText(g.append("text").attr("x",X0+288).attr("y",Y0+19.6).attr("text-anchor","middle").text(p.name), 10);

  // legend
  const lx0 = X0+3, lx1 = X0+24.5, ly = [Y0+6.6, Y0+13.3, Y0+20.3];
  g.append("line").attr("x1",lx0).attr("x2",lx1).attr("y1",ly[0]).attr("y2",ly[0]).attr("stroke",C_CTRL).attr("stroke-width",1.5).attr("stroke-dasharray","5,2.5");
  g.append("line").attr("x1",lx0).attr("x2",lx1).attr("y1",ly[1]).attr("y2",ly[1])
    .attr("stroke", p.thickLeg ? "#ff6060" : C_OPER).attr("stroke-width", p.thickLeg ? 3 : 1.3);
  g.append("line").attr("x1",lx0).attr("x2",lx1).attr("y1",ly[2]).attr("y2",ly[2]).attr("stroke",C_MEAN).attr("stroke-width",2.6).attr("stroke-dasharray","2.6,2");
  LEGEND.forEach((s,i)=>{
    styleText(g.append("text").attr("x",X0+47.5).attr("y",ly[i]+2.4).attr("text-anchor","middle").text(s), 7);
  });
});

// frame and dividers
svg.append("rect").attr("x",1).attr("y",1).attr("width",775.5).attr("height",550).attr("fill","none").attr("stroke","#a8a8ff").attr("stroke-width",2);
svg.append("line").attr("x1",389).attr("x2",389).attr("y1",0).attr("y2",552).attr("stroke","#2a2ae6").attr("stroke-width",1.4);
svg.append("line").attr("x1",0).attr("x2",777).attr("y1",184).attr("y2",184).attr("stroke","#2a2ae6").attr("stroke-width",1.4);
svg.append("line").attr("x1",0).attr("x2",777).attr("y1",367.5).attr("y2",367.5).attr("stroke","#2a2ae6").attr("stroke-width",1.4);
</script>
</body></html>
